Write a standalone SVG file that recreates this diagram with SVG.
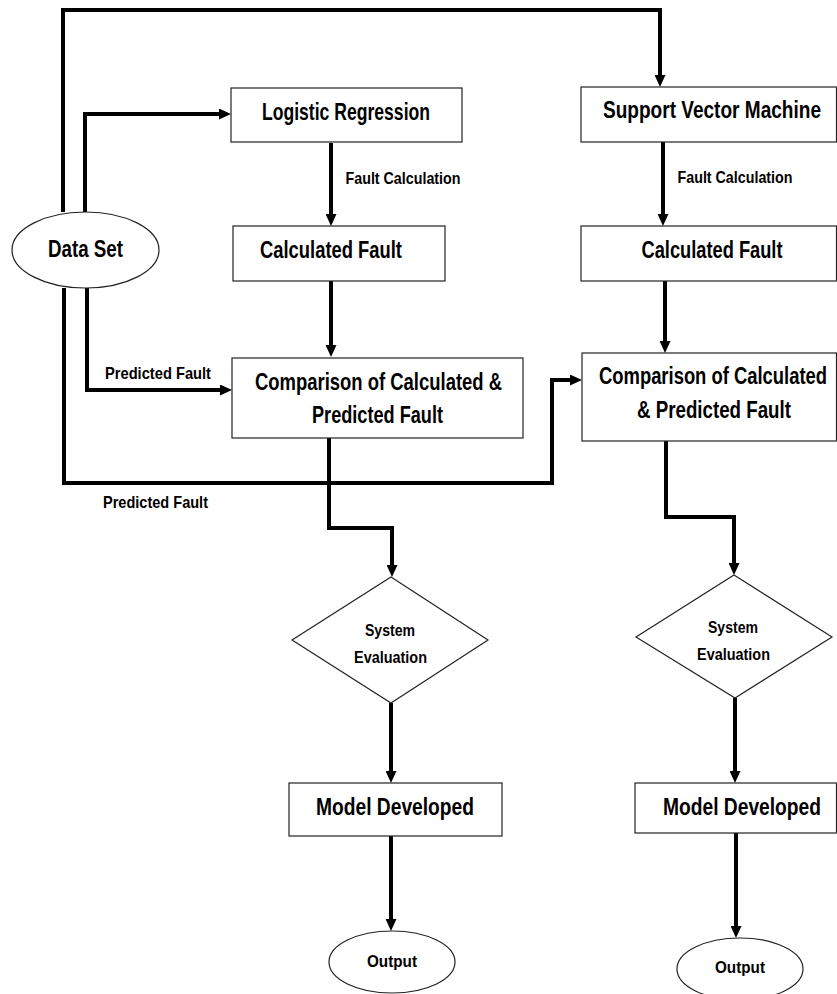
<svg xmlns="http://www.w3.org/2000/svg" width="837" height="994" viewBox="0 0 837 994">
<style>
.box{fill:#fff;stroke:#222;stroke-width:1.2}
.con{fill:none;stroke:#000;stroke-width:4;stroke-linejoin:miter;stroke-linecap:butt}
text{font-family:"Liberation Sans",Arial,sans-serif;font-weight:bold;fill:#000;text-anchor:middle}
.lg{font-size:24px}
.md{font-size:20px}
.mx{font-size:18px}
.sm{font-size:17px}
.xs{font-size:16px}
</style>
<defs>
<marker id="ah" markerWidth="12" markerHeight="11" refX="0" refY="5.5" orient="auto" markerUnits="userSpaceOnUse">
<path d="M0,0 L12,5.5 L0,11 z" fill="#000"/>
</marker>
</defs>
<rect width="837" height="994" fill="#fff"/>
<g id="connectors">
<path class="con" d="M63 212 V10 H660 V75" marker-end="url(#ah)"/>
<path class="con" d="M85 212 V114 H219" marker-end="url(#ah)"/>
<path class="con" d="M331 143 V214" marker-end="url(#ah)"/>
<path class="con" d="M331 281 V345" marker-end="url(#ah)"/>
<path class="con" d="M87 288 V390 H220" marker-end="url(#ah)"/>
<path class="con" d="M64 288 V483 H552 V380 H570" marker-end="url(#ah)"/>
<path class="con" d="M329 438 V528 H392 V565" marker-end="url(#ah)"/>
<path class="con" d="M663 142 V214" marker-end="url(#ah)"/>
<path class="con" d="M665 281 V341" marker-end="url(#ah)"/>
<path class="con" d="M666 441 V517 H734 V563" marker-end="url(#ah)"/>
<path class="con" d="M391 703 V771" marker-end="url(#ah)"/>
<path class="con" d="M391 836 V919" marker-end="url(#ah)"/>
<path class="con" d="M735 698 V771" marker-end="url(#ah)"/>
<path class="con" d="M736 833 V926" marker-end="url(#ah)"/>
<text class="sm" x="403" y="184" textLength="115" lengthAdjust="spacingAndGlyphs">Fault Calculation</text>
<text class="sm" x="735" y="183" textLength="115" lengthAdjust="spacingAndGlyphs">Fault Calculation</text>
<text class="sm" x="158" y="379" textLength="106" lengthAdjust="spacingAndGlyphs">Predicted Fault</text>
<text class="sm" x="155.5" y="508" textLength="105" lengthAdjust="spacingAndGlyphs">Predicted Fault</text>
</g>
<g id="dataset">
<ellipse class="box" cx="85.5" cy="250" rx="73.5" ry="38"/>
<text class="lg" x="85.5" y="257" textLength="75" lengthAdjust="spacingAndGlyphs">Data Set</text>
</g>
<g id="lr">
<rect class="box" x="231" y="88" width="231" height="54"/>
<text class="lg" x="346" y="120" textLength="168" lengthAdjust="spacingAndGlyphs">Logistic Regression</text>
</g>
<g id="svm">
<rect class="box" x="581" y="87" width="255.5" height="55"/>
<text class="md" transform="translate(712,118) scale(1,1.2)" x="0" y="0" textLength="218" lengthAdjust="spacingAndGlyphs">Support Vector Machine</text>
</g>
<g id="cf-left">
<rect class="box" x="233" y="226" width="212" height="55"/>
<text class="lg" x="331" y="258" textLength="142" lengthAdjust="spacingAndGlyphs">Calculated Fault</text>
</g>
<g id="cf-right">
<rect class="box" x="581" y="226" width="255.5" height="55"/>
<text class="lg" x="712" y="258" textLength="141" lengthAdjust="spacingAndGlyphs">Calculated Fault</text>
</g>
<g id="cmp-left">
<rect class="box" x="232" y="358" width="291" height="80"/>
<text class="lg" x="378.5" y="390" textLength="247" lengthAdjust="spacingAndGlyphs">Comparison of Calculated &amp;</text>
<text class="lg" x="377.5" y="423" textLength="131" lengthAdjust="spacingAndGlyphs">Predicted Fault</text>
</g>
<g id="cmp-right">
<rect class="box" x="582" y="353" width="254.5" height="88"/>
<text class="mx" transform="translate(713,384) scale(1,1.33)" x="0" y="0" textLength="228" lengthAdjust="spacingAndGlyphs">Comparison of Calculated</text>
<text class="lg" x="714" y="418" textLength="154" lengthAdjust="spacingAndGlyphs">&amp; Predicted Fault</text>
</g>
<g id="eval-left">
<polygon class="box" points="391,577 488,640 391,703 292,640"/>
<text class="xs" x="390" y="636" textLength="50" lengthAdjust="spacingAndGlyphs">System</text>
<text class="xs" x="390.5" y="663" textLength="73" lengthAdjust="spacingAndGlyphs">Evaluation</text>
</g>
<g id="eval-right">
<polygon class="box" points="734,575 832,637 735,698 636,637"/>
<text class="xs" x="733" y="633" textLength="50" lengthAdjust="spacingAndGlyphs">System</text>
<text class="xs" x="733.5" y="660" textLength="73" lengthAdjust="spacingAndGlyphs">Evaluation</text>
</g>
<g id="model-left">
<rect class="box" x="289" y="783" width="213" height="53"/>
<text class="lg" x="395" y="815" textLength="158" lengthAdjust="spacingAndGlyphs">Model Developed</text>
</g>
<g id="model-right">
<rect class="box" x="635" y="783" width="201.5" height="50"/>
<text class="md" transform="translate(742,815) scale(1,1.2)" x="0" y="0" textLength="158" lengthAdjust="spacingAndGlyphs">Model Developed</text>
</g>
<g id="output-left">
<ellipse class="box" cx="392" cy="962" rx="63" ry="31"/>
<text class="sm" x="392" y="967" textLength="50" lengthAdjust="spacingAndGlyphs">Output</text>
</g>
<g id="output-right">
<ellipse class="box" cx="740" cy="969" rx="63" ry="31"/>
<text class="sm" x="740" y="973" textLength="50" lengthAdjust="spacingAndGlyphs">Output</text>
</g>
</svg>
